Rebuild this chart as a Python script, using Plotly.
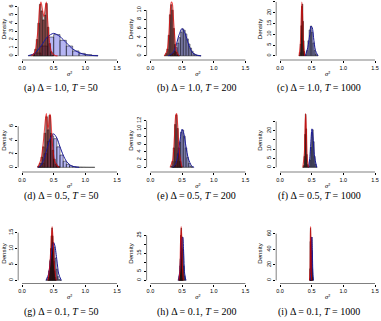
import plotly.graph_objects as go

# ---------------- data ----------------
letters = ["a", "b", "c", "d", "e", "f", "g", "h", "i"]
deltas = ["1.0", "0.5", "0.1"]
horizons = ["50", "200", "1000"]
x_ticks = [0.0, 0.5, 1.0, 1.5]
x_tick_labels = ["0.0", "0.5", "1.0", "1.5"]

# panel (a)
a_red_x = [0.1875, 0.2125, 0.2375, 0.2625, 0.2875, 0.3125, 0.3375, 0.3625, 0.3875, 0.4125, 0.4375, 0.4625, 0.4875]
a_red_y = [0.2, 0.8, 2.0, 4.0, 6.3, 5.5, 4.4, 5.0, 6.4, 3.5, 1.5, 0.5, 0.1]
a_red_w = 0.025
a_red_cx = [0.15, 0.2, 0.25, 0.28, 0.3, 0.32, 0.345, 0.37, 0.385, 0.4, 0.43, 0.47, 0.52, 0.56]
a_red_cy = [0.0, 0.4, 3.0, 6.0, 6.57, 5.8, 4.8, 6.0, 6.57, 5.0, 2.0, 0.4, 0.05, 0.0]
a_blue_x = [0.15, 0.25, 0.35, 0.45, 0.55, 0.65, 0.75, 0.85, 0.95, 1.05, 1.15]
a_blue_y = [0.05, 0.35, 1.2, 2.3, 2.6, 1.9, 1.2, 0.6, 0.3, 0.15, 0.05]
a_blue_w = 0.1
a_blue_cx = [0.1, 0.2, 0.3, 0.4, 0.5, 0.6, 0.7, 0.8, 0.9, 1.0, 1.1, 1.2]
a_blue_cy = [0.02, 0.3, 1.2, 2.3, 2.75, 2.35, 1.6, 0.85, 0.4, 0.15, 0.05, 0.01]
a_y_ticks = [0, 1, 2, 3, 4, 5, 6]
a_y_labels = ["0", "1", "2", "3", "4", "5", "6"]

# panel (b)
b_red_x = [0.23, 0.25, 0.27, 0.29, 0.31, 0.33, 0.35, 0.37, 0.39, 0.41, 0.43, 0.45]
b_red_y = [0.1, 0.5, 1.5, 4.5, 9.0, 11.2, 10.0, 6.0, 2.5, 0.8, 0.2, 0.05]
b_red_w = 0.02
b_red_cx = [0.22, 0.26, 0.29, 0.31, 0.33, 0.345, 0.36, 0.38, 0.41, 0.45]
b_red_cy = [0.0, 1.0, 4.5, 9.0, 11.75, 11.5, 9.0, 5.0, 1.2, 0.0]
b_blue_x = [0.3125, 0.3375, 0.3625, 0.3875, 0.4125, 0.4375, 0.4625, 0.4875, 0.5125, 0.5375,
            0.5625, 0.5875, 0.6125, 0.6375, 0.6625, 0.6875, 0.7125, 0.7375, 0.7625, 0.7875]
b_blue_y = [0.1, 0.3, 0.6, 1.0, 1.8, 2.8, 4.0, 5.2, 5.9, 5.6, 4.8, 3.7, 2.6, 1.7, 1.0, 0.5, 0.25, 0.1, 0.05, 0.03]
b_blue_w = 0.025
b_blue_cx = [0.28, 0.35, 0.4, 0.45, 0.5, 0.55, 0.6, 0.65, 0.7, 0.8]
b_blue_cy = [0.0, 0.6, 2.0, 4.5, 6.0, 4.8, 2.6, 1.0, 0.3, 0.0]
b_y_ticks = [0, 2, 4, 6, 8, 10]
b_y_labels = ["0", "2", "4", "6", "8", "10"]

# panel (c)
c_red_x = [0.305, 0.315, 0.325, 0.335, 0.345, 0.355, 0.365, 0.375, 0.385, 0.395]
c_red_y = [0.3, 1.5, 5.5, 14.0, 23.0, 24.0, 16.0, 7.0, 2.0, 0.4]
c_red_w = 0.01
c_red_cx = [0.3, 0.32, 0.335, 0.345, 0.355, 0.37, 0.39]
c_red_cy = [0.0, 5.0, 18.0, 24.9, 20.0, 6.0, 0.0]
c_blue_x = [0.41, 0.43, 0.45, 0.47, 0.49, 0.51, 0.53, 0.55, 0.57, 0.59]
c_blue_y = [0.5, 2.5, 7.0, 12.0, 13.8, 11.0, 6.0, 2.5, 0.8, 0.2]
c_blue_w = 0.02
c_blue_cx = [0.4, 0.44, 0.47, 0.49, 0.51, 0.53, 0.56, 0.6]
c_blue_cy = [0.0, 4.0, 10.0, 13.8, 13.0, 8.5, 2.5, 0.0]
c_y_ticks = [0, 5, 10, 15, 20, 25]
c_y_labels = ["0", "5", "10", "15", "20", "25"]

# panel (d)
d_red_x = [0.2625, 0.2875, 0.3125, 0.3375, 0.3625, 0.3875, 0.4125, 0.4375, 0.4625, 0.4875,
           0.5125, 0.5375, 0.5625, 0.5875]
d_red_y = [0.2, 0.6, 1.5, 3.0, 5.0, 7.4, 5.5, 7.6, 5.0, 2.5, 1.2, 0.5, 0.2, 0.1]
d_red_w = 0.025
d_red_cx = [0.25, 0.3, 0.34, 0.37, 0.385, 0.41, 0.44, 0.45, 0.48, 0.52, 0.58]
d_red_cy = [0.0, 1.2, 4.0, 7.0, 7.86, 5.5, 7.8, 7.5, 3.5, 0.8, 0.0]
d_blue_x = [0.275, 0.325, 0.375, 0.425, 0.475, 0.525, 0.575, 0.625, 0.675, 0.725, 0.775, 0.825,
            0.875, 0.925, 0.975, 1.025, 1.075, 1.125]
d_blue_y = [0.1, 0.6, 2.0, 3.8, 4.6, 4.2, 3.0, 1.8, 0.9, 0.45, 0.22, 0.1, 0.06, 0.04, 0.03, 0.02, 0.01, 0.01]
d_blue_w = 0.05
d_blue_cx = [0.25, 0.3, 0.35, 0.4, 0.45, 0.5, 0.55, 0.6, 0.65, 0.7, 0.75, 0.8, 0.9]
d_blue_cy = [0.0, 0.3, 1.3, 2.9, 4.3, 4.9, 4.3, 3.0, 1.8, 0.9, 0.4, 0.15, 0.0]
d_y_ticks = [0, 2, 4, 6]
d_y_labels = ["0", "2", "4", "6"]

# panel (e)
e_red_x = [0.33, 0.35, 0.37, 0.39, 0.41, 0.43, 0.45, 0.47, 0.49]
e_red_y = [0.3, 1.5, 5.0, 11.0, 13.5, 10.0, 5.0, 1.5, 0.3]
e_red_w = 0.02
e_red_cx = [0.31, 0.35, 0.38, 0.4, 0.415, 0.43, 0.46, 0.5]
e_red_cy = [0.0, 1.8, 8.0, 13.3, 13.8, 11.0, 3.5, 0.0]
e_blue_x = [0.3625, 0.3875, 0.4125, 0.4375, 0.4625, 0.4875, 0.5125, 0.5375, 0.5625, 0.5875,
            0.6125, 0.6375, 0.6625]
e_blue_y = [0.1, 0.5, 1.5, 3.5, 6.5, 9.0, 9.6, 8.0, 5.0, 2.5, 1.0, 0.3, 0.1]
e_blue_w = 0.025
e_blue_cx = [0.35, 0.4, 0.44, 0.47, 0.5, 0.53, 0.56, 0.6, 0.65, 0.69]
e_blue_cy = [0.0, 1.0, 3.8, 7.2, 9.8, 8.5, 5.5, 2.2, 0.4, 0.0]
e_y_ticks = [0, 2, 4, 6, 8, 10, 12]
e_y_labels = ["0", "2", "4", "6", "8", "10", "12"]

# panel (f)
f_red_x = [0.365, 0.375, 0.385, 0.395, 0.405, 0.415, 0.425, 0.435, 0.445]
f_red_y = [0.2, 1.0, 6.0, 18.0, 29.0, 21.0, 7.0, 1.5, 0.2]
f_red_w = 0.01
f_red_cx = [0.36, 0.385, 0.395, 0.405, 0.415, 0.43, 0.45]
f_red_cy = [0.0, 8.0, 22.0, 29.3, 22.0, 5.0, 0.0]
f_blue_x = [0.4575, 0.4725, 0.4875, 0.5025, 0.5175, 0.5325, 0.5475, 0.5625, 0.5775]
f_blue_y = [0.8, 4.0, 11.0, 19.0, 20.5, 14.0, 6.0, 1.8, 0.4]
f_blue_w = 0.015
f_blue_cx = [0.45, 0.47, 0.49, 0.505, 0.52, 0.545, 0.58]
f_blue_cy = [0.0, 5.0, 15.0, 21.0, 17.0, 6.0, 0.0]
f_y_ticks = [0, 5, 10, 15, 20, 25]
f_y_labels = ["0", "5", "10", "", "20", ""]

# panel (g)
g_red_x = [0.415, 0.425, 0.435, 0.445, 0.455, 0.465, 0.475, 0.485, 0.495, 0.505, 0.515, 0.525, 0.535]
g_red_y = [0.3, 1.0, 3.0, 6.0, 10.0, 14.0, 16.5, 14.0, 10.0, 6.0, 3.0, 1.0, 0.3]
g_red_w = 0.01
g_red_cx = [0.41, 0.44, 0.46, 0.475, 0.49, 0.51, 0.54]
g_red_cy = [0.0, 5.0, 12.0, 16.9, 13.0, 5.0, 0.0]
g_blue_x = [0.39, 0.41, 0.43, 0.45, 0.47, 0.49, 0.51, 0.53, 0.55, 0.57, 0.59, 0.61]
g_blue_y = [0.2, 1.0, 3.0, 6.5, 10.0, 11.8, 10.5, 7.0, 3.5, 1.2, 0.3, 0.1]
g_blue_w = 0.02
g_blue_cx = [0.38, 0.42, 0.45, 0.48, 0.5, 0.52, 0.55, 0.58, 0.62]
g_blue_cy = [0.0, 2.0, 6.5, 10.5, 11.9, 10.8, 6.5, 2.0, 0.0]
g_y_ticks = [0, 5, 10, 15]
g_y_labels = ["0", "5", "10", "15"]

# panel (h)
h_red_x = [0.456, 0.464, 0.472, 0.48, 0.488, 0.496, 0.504, 0.512]
h_red_y = [0.5, 3.0, 12.0, 25.0, 29.0, 18.0, 6.0, 1.0]
h_red_w = 0.008
h_red_cx = [0.45, 0.465, 0.475, 0.485, 0.495, 0.505, 0.52]
h_red_cy = [0.0, 5.0, 20.0, 29.8, 24.0, 8.0, 0.0]
h_blue_x = [0.446, 0.458, 0.47, 0.482, 0.494, 0.506, 0.518, 0.53, 0.542, 0.554]
h_blue_y = [0.5, 2.5, 8.0, 16.0, 23.0, 24.0, 17.0, 8.0, 2.5, 0.5]
h_blue_w = 0.012
h_blue_cx = [0.44, 0.46, 0.48, 0.495, 0.51, 0.525, 0.54, 0.56]
h_blue_cy = [0.0, 4.0, 14.0, 23.0, 24.0, 15.0, 4.0, 0.0]
h_y_ticks = [0, 5, 10, 15, 20, 25]
h_y_labels = ["0", "5", "", "15", "", "25"]

# panel (i)
i_red_x = [0.47, 0.474, 0.478, 0.482, 0.486, 0.49, 0.494]
i_red_y = [2.0, 15.0, 50.0, 67.0, 45.0, 12.0, 2.0]
i_red_w = 0.004
i_red_cx = [0.466, 0.474, 0.48, 0.484, 0.49, 0.496, 0.502]
i_red_cy = [0.0, 15.0, 60.0, 69.0, 40.0, 8.0, 0.0]
i_blue_x = [0.4825, 0.4875, 0.4925, 0.4975, 0.5025, 0.5075, 0.5125, 0.5175, 0.5225]
i_blue_y = [2.0, 10.0, 32.0, 52.0, 55.7, 38.0, 15.0, 4.0, 1.0]
i_blue_w = 0.005
i_blue_cx = [0.478, 0.488, 0.495, 0.502, 0.51, 0.518, 0.528]
i_blue_cy = [0.0, 15.0, 45.0, 55.7, 40.0, 12.0, 0.0]
i_y_ticks = [0, 20, 40, 60]
i_y_labels = ["0", "20", "40", "60"]

panels = [
    (a_red_x, a_red_y, a_red_w, a_red_cx, a_red_cy, a_blue_x, a_blue_y, a_blue_w, a_blue_cx, a_blue_cy, a_y_ticks, a_y_labels),
    (b_red_x, b_red_y, b_red_w, b_red_cx, b_red_cy, b_blue_x, b_blue_y, b_blue_w, b_blue_cx, b_blue_cy, b_y_ticks, b_y_labels),
    (c_red_x, c_red_y, c_red_w, c_red_cx, c_red_cy, c_blue_x, c_blue_y, c_blue_w, c_blue_cx, c_blue_cy, c_y_ticks, c_y_labels),
    (d_red_x, d_red_y, d_red_w, d_red_cx, d_red_cy, d_blue_x, d_blue_y, d_blue_w, d_blue_cx, d_blue_cy, d_y_ticks, d_y_labels),
    (e_red_x, e_red_y, e_red_w, e_red_cx, e_red_cy, e_blue_x, e_blue_y, e_blue_w, e_blue_cx, e_blue_cy, e_y_ticks, e_y_labels),
    (f_red_x, f_red_y, f_red_w, f_red_cx, f_red_cy, f_blue_x, f_blue_y, f_blue_w, f_blue_cx, f_blue_cy, f_y_ticks, f_y_labels),
    (g_red_x, g_red_y, g_red_w, g_red_cx, g_red_cy, g_blue_x, g_blue_y, g_blue_w, g_blue_cx, g_blue_cy, g_y_ticks, g_y_labels),
    (h_red_x, h_red_y, h_red_w, h_red_cx, h_red_cy, h_blue_x, h_blue_y, h_blue_w, h_blue_cx, h_blue_cy, h_y_ticks, h_y_labels),
    (i_red_x, i_red_y, i_red_w, i_red_cx, i_red_cy, i_blue_x, i_blue_y, i_blue_w, i_blue_cx, i_blue_cy, i_y_ticks, i_y_labels),
]

# ---------------- layout / style ----------------
W, H = 381, 321
col_left = [18.2, 146.6, 276.2]
col_w = 102.6
row_top = [0.0, 111.5, 224.5]
row_h = 58.0
xaxis_px = [60.0, 172.0, 283.5]
caption_px_y = [88.0, 195.5, 312.0]
caption_px_x = [60.5, 196.0, 319.0]

SANS = "Liberation Sans, Arial, sans-serif"
SERIF = "Liberation Serif, Times New Roman, serif"
RED_FILL = "rgba(140,0,0,0.6)"
RED_LINE = "rgba(230,0,0,0.7)"
BLUE_FILL = "rgba(30,30,220,0.33)"
BLUE_LINE = "#1a1a9a"
EDGE = "#111111"

fig = go.Figure()
layout = dict(
    width=W, height=H, margin=dict(l=0, r=0, t=0, b=0),
    paper_bgcolor="white", plot_bgcolor="white",
    showlegend=False, barmode="overlay",
)
shapes, annotations = [], []
tick_style = dict(ticks="outside", ticklen=2, tickwidth=0.5, tickcolor="black")

for k, p in enumerate(panels):
    (rx, ry, rw, rcx, rcy, bx, by, bw, bcx, bcy, yt, yl) = p
    r, c = divmod(k, 3)
    n = "" if k == 0 else str(k + 1)
    xa, ya = "x" + n, "y" + n
    ymax = max(max(ry), max(rcy), max(by), max(bcy))

    fig.add_trace(go.Bar(x=bx, y=by, width=bw, xaxis=xa, yaxis=ya,
                         marker=dict(color=BLUE_FILL, line=dict(color=EDGE, width=0.5))))
    fig.add_trace(go.Bar(x=rx, y=ry, width=rw, xaxis=xa, yaxis=ya,
                         marker=dict(color=RED_FILL, line=dict(color=EDGE, width=0.5))))
    fig.add_trace(go.Scatter(x=bcx, y=bcy, mode="lines", xaxis=xa, yaxis=ya,
                             line=dict(color=BLUE_LINE, width=1.0, shape="spline", smoothing=0.8)))
    fig.add_trace(go.Scatter(x=rcx, y=rcy, mode="lines", xaxis=xa, yaxis=ya,
                             line=dict(color=RED_LINE, width=1.1, shape="spline", smoothing=0.8)))

    x0p = col_left[c] / W
    x1p = (col_left[c] + col_w) / W
    y0p = 1 - (row_top[r] + row_h) / H
    y1p = 1 - row_top[r] / H
    axpos = 1 - xaxis_px[r] / H

    major_v = [v for v, t in zip(yt, yl) if t]
    major_t = [t for t in yl if t]
    minor_v = [v for v, t in zip(yt, yl) if not t]

    layout["xaxis" + n] = dict(
        domain=[x0p, x1p], range=[-0.06, 1.56], anchor="free", position=axpos,
        tickvals=x_ticks, ticktext=x_tick_labels, showgrid=False, zeroline=False,
        showline=False, tickfont=dict(family=SANS, size=5.5, color="black"),
        title=dict(text="<i>σ</i>²", standoff=1,
                   font=dict(family=SERIF, size=6.5, color="black")),
        **tick_style,
    )
    ydict = dict(
        domain=[y0p, y1p], range=[-0.04 * ymax, 1.04 * ymax], anchor=xa,
        tickvals=major_v, ticktext=major_t, tickangle=-90, showgrid=False, zeroline=False,
        showline=False, tickfont=dict(family=SANS, size=5.5, color="black"),
        title=dict(text="Density", standoff=2,
                   font=dict(family=SANS, size=6.2, color="black")),
        **tick_style,
    )
    if minor_v:
        ydict["minor"] = dict(tickvals=minor_v, showgrid=False, **tick_style)
    layout["yaxis" + n] = ydict

    # R-style axis lines spanning the tick range
    shapes.append(dict(type="line", xref=xa, yref="paper", x0=x_ticks[0], x1=x_ticks[-1],
                       y0=axpos, y1=axpos, line=dict(color="black", width=0.5)))
    shapes.append(dict(type="line", xref="paper", yref=ya, x0=x0p, x1=x0p,
                       y0=yt[0], y1=yt[-1], line=dict(color="black", width=0.5)))
    # sub-captions
    annotations.append(dict(
        text=f"({letters[k]}) Δ = {deltas[r]}, <i>T</i> = {horizons[c]}",
        xref="paper", yref="paper", x=caption_px_x[c] / W, y=1 - caption_px_y[r] / H,
        showarrow=False, xanchor="center", yanchor="middle",
        font=dict(family=SERIF, size=10, color="black")))

layout["shapes"] = shapes
layout["annotations"] = annotations
fig.update_layout(**layout)
fig.write_html("out.html")
